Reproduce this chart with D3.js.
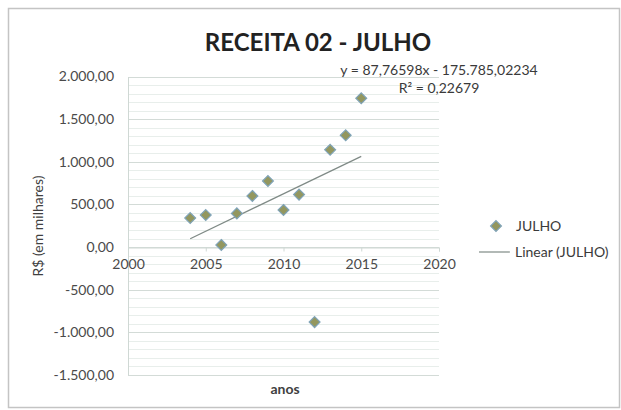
<!DOCTYPE html>
<html>
<head>
<meta charset="utf-8">
<script src="https://cdn.jsdelivr.net/npm/d3@7"></script>
<style>
  html, body { margin: 0; padding: 0; background: #fff; }
  svg { display: block; }
  text { font-family: Lato, "Open Sans", sans-serif; }
</style>
</head>
<body>
<script>
// ---- data ----
const years = [2004, 2005, 2006, 2007, 2008, 2009, 2010, 2011, 2012, 2013, 2014, 2015];
const julho = [340, 375, 25, 395, 600, 775, 435, 615, -880, 1140, 1310, 1745];
const xTicks = [2000, 2005, 2010, 2015, 2020];
const yTicks = [-1500, -1000, -500, 0, 500, 1000, 1500, 2000];
const trendSlope = 87.76598;
const trendIntercept = -175785.02234;
const equationText = "y = 87,76598x - 175.785,02234";
const r2Text = "R² = 0,22679";
const titleText = "RECEITA 02 - JULHO";
const xTitle = "anos";
const yTitle = "R$ (em milhares)";
const legendLabels = ["JULHO", "Linear (JULHO)"];

// ---- layout ----
const W = 621, H = 410;
const FS = 14;
const svg = d3.select("body").append("svg").attr("width", W).attr("height", H);
svg.append("rect").attr("width", W).attr("height", H).attr("fill", "#fff");
svg.append("rect").attr("x", 8.5).attr("y", 8.5).attr("width", 611).attr("height", 399)
  .attr("fill", "none").attr("stroke", "#c4c4c4").attr("stroke-width", 1.5);

const x = d3.scaleLinear().domain([2000, 2020]).range([128, 439]);
const y = d3.scaleLinear().domain([-1500, 2000]).range([375, 76.5]);

const fmt = v => {
  const s = d3.format(",.2f")(v);
  return s.replace(/,/g, "#").replace(/\./g, ",").replace(/#/g, ".").replace("−", "-");
};

// minor gridlines
const minor = d3.range(-1500, 2001, 100).filter(v => v % 500 !== 0);
svg.append("g").selectAll("line").data(minor).join("line")
  .attr("x1", x(2000)).attr("x2", x(2020))
  .attr("y1", d => Math.round(y(d)) + 0.5).attr("y2", d => Math.round(y(d)) + 0.5)
  .attr("stroke", "#e8eeeb").attr("stroke-width", 1);
// major gridlines
svg.append("g").selectAll("line").data(yTicks).join("line")
  .attr("x1", x(2000)).attr("x2", x(2020))
  .attr("y1", d => Math.round(y(d)) + 0.5).attr("y2", d => Math.round(y(d)) + 0.5)
  .attr("stroke", "#d3dbd7").attr("stroke-width", 1);

// y axis
const yAxis = d3.axisLeft(y).tickValues(yTicks).tickFormat(fmt).tickSize(0).tickPadding(14);
const gy = svg.append("g").attr("transform", `translate(${x(2000)},0)`).call(yAxis);
gy.select(".domain").attr("stroke", "#cfd8d4");
gy.selectAll("text").attr("font-size", FS).attr("fill", "#4a4a4a")
  .attr("font-family", "Lato, sans-serif");

// x axis at y=0
const xAxis = d3.axisBottom(x).tickValues(xTicks).tickFormat(d3.format("d")).tickSize(4).tickPadding(8);
const gx = svg.append("g").attr("transform", `translate(0,${Math.round(y(0)) + 0.5})`).call(xAxis);
gx.select(".domain").attr("stroke", "#cfd8d4");
gx.selectAll(".tick line").attr("stroke", "#cfd8d4");
gx.selectAll("text").attr("font-size", FS).attr("fill", "#4a4a4a")
  .attr("font-family", "Lato, sans-serif");

// trendline
const tx = [d3.min(years), d3.max(years)];
svg.append("line")
  .attr("x1", x(tx[0])).attr("y1", y(trendSlope * tx[0] + trendIntercept))
  .attr("x2", x(tx[1])).attr("y2", y(trendSlope * tx[1] + trendIntercept))
  .attr("stroke", "#7f8a86").attr("stroke-width", 1.2);

// markers
const diamond = d3.symbol().type(d3.symbolDiamond2).size(75);
svg.append("g").selectAll("path").data(years.map((yr, i) => [yr, julho[i]])).join("path")
  .attr("d", diamond)
  .attr("transform", d => `translate(${x(d[0])},${y(d[1])})`)
  .attr("fill", "#93975f").attr("stroke", "#7fa3b8").attr("stroke-width", 1.2);

// title
svg.append("text").attr("x", 318).attr("y", 51).attr("text-anchor", "middle")
  .attr("font-size", 24).attr("font-weight", "bold").attr("fill", "#222")
  .text(titleText);

// equation
svg.append("text").attr("x", 439).attr("y", 75).attr("text-anchor", "middle")
  .attr("font-size", FS).attr("fill", "#3a3a3a").text(equationText);
svg.append("text").attr("x", 439).attr("y", 93).attr("text-anchor", "middle")
  .attr("font-size", FS).attr("fill", "#3a3a3a").text(r2Text);

// axis titles
svg.append("text").attr("x", 285).attr("y", 394).attr("text-anchor", "middle")
  .attr("font-size", FS).attr("font-weight", "bold").attr("fill", "#404040").text(xTitle);
svg.append("text").attr("transform", "translate(43,226) rotate(-90)").attr("text-anchor", "middle")
  .attr("font-size", FS).attr("fill", "#404040").text(yTitle);

// legend
const lg = svg.append("g");
lg.append("path").attr("d", diamond).attr("transform", "translate(496,226)")
  .attr("fill", "#93975f").attr("stroke", "#7fa3b8").attr("stroke-width", 1.2);
lg.append("text").attr("x", 516).attr("y", 231).attr("font-size", FS).attr("fill", "#3a3a3a")
  .text(legendLabels[0]);
lg.append("line").attr("x1", 479).attr("x2", 510).attr("y1", 252).attr("y2", 252)
  .attr("stroke", "#7f8a86").attr("stroke-width", 1.2);
lg.append("text").attr("x", 515).attr("y", 257).attr("font-size", FS).attr("fill", "#3a3a3a")
  .text(legendLabels[1]);
</script>
</body>
</html>
